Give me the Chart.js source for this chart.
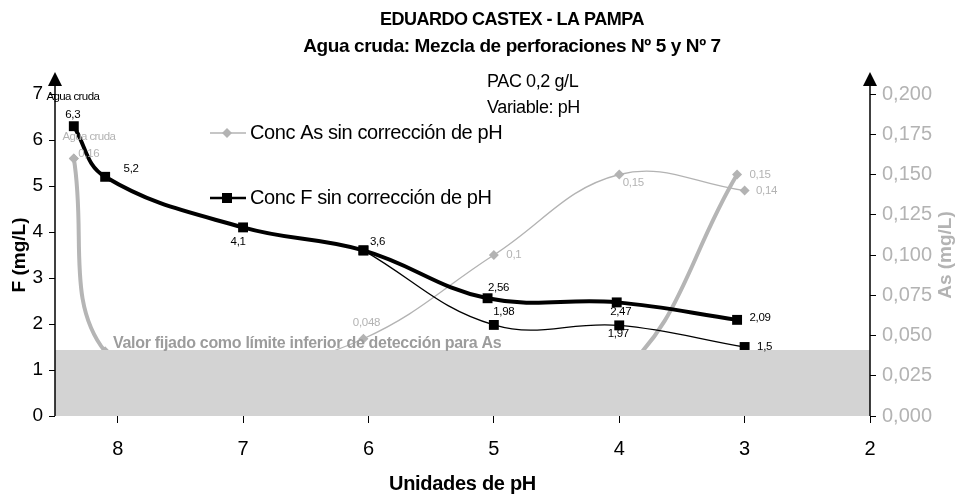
<!DOCTYPE html>
<html>
<head>
<meta charset="utf-8">
<script src="https://cdn.jsdelivr.net/npm/chart.js@4.4.1/dist/chart.umd.min.js"></script>
<style>
  html, body { margin: 0; padding: 0; background: #fff; }
</style>
</head>
<body>
<canvas id="grafico" width="960" height="495"></canvas>
<script>
// datos (pH vs concentracion)
const phF = [8.35, 8.1, 7, 6.04, 5.05, 4.02, 3.06];
const fluorF = [6.3, 5.2, 4.1, 3.6, 2.56, 2.47, 2.09];
const phF2 = [6.04, 5, 4, 3];
const fluorF2 = [3.6, 1.98, 1.97, 1.5];
const phAs = [8.35, 8.1, 7, 6.04, 5, 4, 3];
const arsenico = [0.16, 0.04, 0.03, 0.048, 0.1, 0.15, 0.14];
const phAs2 = [8.35, 8.1, 7, 6.04, 5.05, 4.02, 3.06];
const arsenico2 = [0.16, 0.04, 0.028, 0.028, 0.028, 0.025, 0.15];
const xTicks = [8, 7, 6, 5, 4, 3, 2];
const limiteAs = 0.041;

const FONT = "'Liberation Sans', Arial, sans-serif";
const GRIS = '#b3b3b3';

const fmt = v => String(v).replace('.', ',');
const puntos = (xs, ys) => xs.map((x, i) => ({ x: x, y: ys[i] }));

// desplazamiento de cada etiqueta respecto a su marcador (null = sin etiqueta)
const offsets = [
  [[-1, -11], [26, -8], [-5, 14], [14, -9], [11, -10], [4, 9], [23, -2]],
  [null, [10, -13], [-1, 8], [20, 0]],
  [null, null, null, null, null, null, [23, 0]],
  [[15, -5], null, null, [3, -16], [20, 0], [14, 8], [22, 0]]
];

function texto(ctx, str, x, y, font, color, align, spacing) {
  ctx.font = font;
  ctx.fillStyle = color;
  ctx.textAlign = align || 'center';
  ctx.textBaseline = 'middle';
  ctx.letterSpacing = spacing || '0px';
  ctx.fillText(str, x, y);
}

const extras = {
  id: 'extras',
  afterDatasetsDraw(chart) {
    const { ctx, chartArea: a, scales } = chart;
    ctx.save();
    // franja del limite de deteccion
    const top = scales.y2.getPixelForValue(limiteAs);
    ctx.fillStyle = '#d3d3d3';
    ctx.fillRect(a.left, top, a.right - a.left, a.bottom - top);
    texto(ctx, 'Valor fijado como límite inferior de detección para As', 113, top - 6,
      'bold 16px ' + FONT, '#9c9c9c', 'left', '-0.3px');

    // ejes verticales con flecha
    ctx.strokeStyle = '#000';
    ctx.fillStyle = '#000';
    ctx.lineWidth = 1.5;
    [a.left, a.right].forEach(px => {
      ctx.beginPath();
      ctx.moveTo(px, a.bottom);
      ctx.lineTo(px, a.top - 10);
      ctx.stroke();
      ctx.beginPath();
      ctx.moveTo(px, a.top - 22);
      ctx.lineTo(px - 7, a.top - 8);
      ctx.lineTo(px + 7, a.top - 8);
      ctx.closePath();
      ctx.fill();
    });
    ctx.restore();
  },
  afterDraw(chart) {
    const { ctx, chartArea: a } = chart;
    ctx.save();
    // etiquetas de datos
    chart.data.datasets.forEach((ds, di) => {
      const meta = chart.getDatasetMeta(di);
      const color = di < 2 ? '#000' : GRIS;
      meta.data.forEach((pt, i) => {
        const off = offsets[di][i];
        if (!off) return;
        texto(ctx, fmt(ds.data[i].y), pt.x + off[0], pt.y + off[1], '11.5px ' + FONT, color, 'center', '-0.3px');
      });
    });
    const pF = chart.getDatasetMeta(0).data[0];
    const pAs = chart.getDatasetMeta(3).data[0];
    texto(ctx, 'Agua cruda', pF.x - 1, pF.y - 29, '11.5px ' + FONT, '#000', 'center', '-0.6px');
    texto(ctx, 'Agua cruda', pAs.x + 15, pAs.y - 22, '11.5px ' + FONT, GRIS, 'center', '-0.6px');

    // titulos
    texto(ctx, 'EDUARDO CASTEX - LA PAMPA', 512, 20, 'bold 18px ' + FONT, '#000', 'center', '-0.5px');
    texto(ctx, 'Agua cruda: Mezcla de perforaciones Nº 5 y Nº 7', 512, 47, 'bold 19px ' + FONT, '#000', 'center', '-0.4px');
    texto(ctx, 'PAC 0,2 g/L', 487, 82, '18px ' + FONT, '#000', 'left', '-0.4px');
    texto(ctx, 'Variable: pH', 487, 108, '18px ' + FONT, '#000', 'left', '-0.4px');

    // leyenda
    ctx.lineWidth = 1.5;
    ctx.strokeStyle = GRIS;
    ctx.beginPath(); ctx.moveTo(210, 133); ctx.lineTo(246, 133); ctx.stroke();
    ctx.fillStyle = GRIS;
    ctx.beginPath();
    ctx.moveTo(227, 128); ctx.lineTo(232, 133); ctx.lineTo(227, 138); ctx.lineTo(222, 133);
    ctx.closePath(); ctx.fill();
    texto(ctx, 'Conc As sin corrección de pH', 250, 133, '20px ' + FONT, '#000', 'left', '-0.4px');
    ctx.lineWidth = 2.5;
    ctx.strokeStyle = '#000';
    ctx.beginPath(); ctx.moveTo(210, 198); ctx.lineTo(246, 198); ctx.stroke();
    ctx.fillStyle = '#000';
    ctx.fillRect(222, 193, 10, 10);
    texto(ctx, 'Conc F sin corrección de pH', 250, 198, '20px ' + FONT, '#000', 'left', '-0.4px');

    // titulos de ejes
    ctx.save();
    ctx.translate(20, (a.top + a.bottom) / 2);
    ctx.rotate(-Math.PI / 2);
    texto(ctx, 'F (mg/L)', 0, 0, 'bold 19px ' + FONT, '#000', 'center', '0px');
    ctx.restore();
    ctx.save();
    ctx.translate(946, (a.top + a.bottom) / 2);
    ctx.rotate(-Math.PI / 2);
    texto(ctx, 'As (mg/L)', 0, 0, 'bold 19px ' + FONT, GRIS, 'center', '0px');
    ctx.restore();
    texto(ctx, 'Unidades de pH', (a.left + a.right) / 2, 484, 'bold 20px ' + FONT, '#000', 'center', '-0.3px');
    ctx.restore();
  }
};

const ctx = document.getElementById('grafico').getContext('2d');

const myChart = new Chart(ctx, {
  type: 'line',
  data: {
    datasets: [
      {
        label: 'Conc F sin corrección de pH',
        data: puntos(phF, fluorF),
        yAxisID: 'y',
        borderColor: '#000',
        backgroundColor: '#000',
        borderWidth: 4,
        pointStyle: 'rect',
        pointRadius: 7,
        pointBorderWidth: 0,
        tension: 0.4
      },
      {
        label: 'Conc F',
        data: puntos(phF2, fluorF2),
        yAxisID: 'y',
        borderColor: '#000',
        backgroundColor: '#000',
        borderWidth: 1.3,
        pointStyle: 'rect',
        pointRadius: 7,
        pointBorderWidth: 0,
        tension: 0.4
      },
      {
        label: 'Conc As',
        data: puntos(phAs2, arsenico2),
        yAxisID: 'y2',
        borderColor: '#b5b5b5',
        backgroundColor: GRIS,
        borderWidth: 4,
        pointStyle: 'rectRot',
        pointRadius: 5,
        pointBorderWidth: 0,
        tension: 0.4
      },
      {
        label: 'Conc As sin corrección de pH',
        data: puntos(phAs, arsenico),
        yAxisID: 'y2',
        borderColor: GRIS,
        backgroundColor: GRIS,
        borderWidth: 1.3,
        pointStyle: 'rectRot',
        pointRadius: 5,
        pointBorderWidth: 0,
        tension: 0.4
      }
    ]
  },
  plugins: [extras],
  options: {
    responsive: false,
    animation: false,
    devicePixelRatio: 1,
    layout: { padding: { top: 94, left: 0, right: 0, bottom: 0 } },
    plugins: {
      legend: { display: false },
      tooltip: { enabled: false }
    },
    scales: {
      x: {
        type: 'linear',
        reverse: true,
        min: 2,
        max: 8.5,
        afterFit: s => { s.height = 79; },
        afterBuildTicks: s => { s.ticks = xTicks.map(v => ({ value: v })); },
        grid: { drawOnChartArea: false, tickLength: 7, color: '#000' },
        border: { display: false },
        ticks: { color: '#000', font: { family: FONT, size: 20 }, padding: 14, maxRotation: 0 }
      },
      y: {
        position: 'left',
        min: 0,
        max: 7,
        afterFit: s => { s.width = 55; },
        grid: { drawOnChartArea: false, tickLength: 6, color: '#000' },
        border: { display: false },
        ticks: { stepSize: 1, color: '#000', font: { family: FONT, size: 19 }, padding: 6 }
      },
      y2: {
        position: 'right',
        min: 0,
        max: 0.2,
        afterFit: s => { s.width = 90; },
        grid: { drawOnChartArea: false, tickLength: 6, color: '#000' },
        border: { display: false },
        ticks: {
          stepSize: 0.025,
          color: GRIS,
          font: { family: FONT, size: 20 },
          padding: 6,
          callback: v => v.toFixed(3).replace('.', ',')
        }
      }
    }
  }
});
</script>
</body>
</html>
